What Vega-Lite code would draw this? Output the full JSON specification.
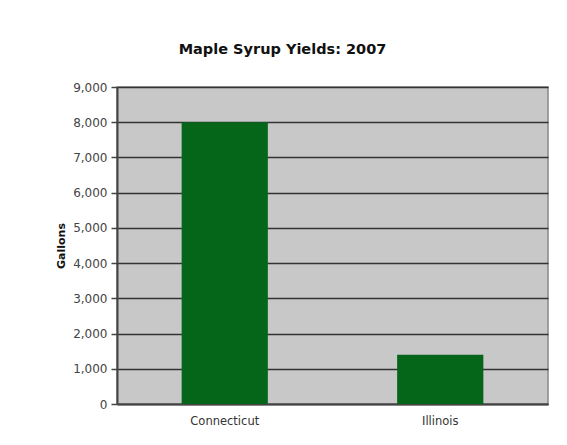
{
  "$schema": "https://vega.github.io/schema/vega-lite/v6.json",
  "autosize": "none",
  "width": 431,
  "height": 317,
  "padding": {"left": 117, "top": 87, "right": 19, "bottom": 41},
  "background": "white",
  "title": {
    "text": "Maple Syrup Yields: 2007",
    "font": "DejaVu Sans",
    "fontSize": 14.5,
    "fontWeight": "bold",
    "color": "#111111",
    "anchor": "middle",
    "dx": -50,
    "offset": 24
  },
  "data": {
    "values": [
      {"state": "Connecticut", "gallons": 8000},
      {"state": "Illinois", "gallons": 1400}
    ]
  },
  "mark": {"type": "bar", "color": "#05661a"},
  "encoding": {
    "x": {
      "field": "state",
      "type": "nominal",
      "sort": null,
      "scale": {"paddingInner": 0.6, "paddingOuter": 0.3},
      "axis": {
        "title": null,
        "labelAngle": 0,
        "labelFont": "DejaVu Sans",
        "labelFontSize": 11.5,
        "labelColor": "#333333",
        "labelPadding": 11,
        "ticks": false,
        "domainColor": "#444444",
        "domainWidth": 2
      }
    },
    "y": {
      "field": "gallons",
      "type": "quantitative",
      "scale": {"domain": [0, 9000]},
      "axis": {
        "title": "Gallons",
        "titleFont": "DejaVu Sans",
        "titleFontSize": 11,
        "titleFontWeight": "bold",
        "titleColor": "#111111",
        "titlePadding": 6,
        "values": [0, 1000, 2000, 3000, 4000, 5000, 6000, 7000, 8000, 9000],
        "format": ",d",
        "labelFont": "DejaVu Sans",
        "labelFontSize": 12,
        "labelColor": "#444444",
        "labelPadding": 4,
        "tickSize": 6,
        "tickColor": "#444444",
        "tickWidth": 1.5,
        "domainColor": "#444444",
        "domainWidth": 2,
        "grid": true,
        "gridColor": "#333333",
        "gridWidth": 1.5,
        "gridOpacity": 1
      }
    }
  },
  "config": {
    "view": {"fill": "#c8c8c8", "stroke": "#888888", "strokeWidth": 1.5}
  }
}
